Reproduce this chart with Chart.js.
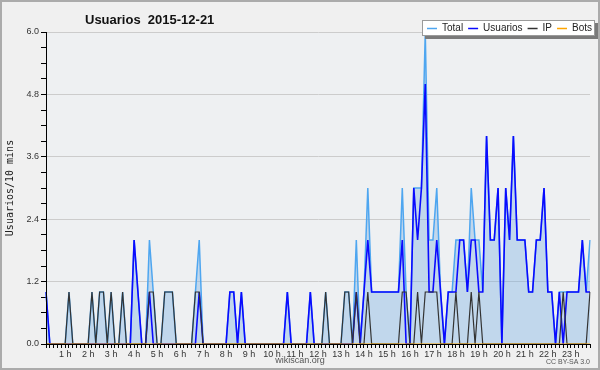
<!DOCTYPE html>
<html>
<head>
<meta charset="utf-8">
<title>Usuarios 2015-12-21</title>
<script src="https://cdn.jsdelivr.net/npm/chart.js@4.4.1/dist/chart.umd.min.js"></script>
<style>
  html, body { margin: 0; padding: 0; background: #f0f0f0; }
  #wrap { width: 600px; height: 370px; }
</style>
</head>
<body>
<div id="wrap"><canvas id="chart" width="600" height="370"></canvas></div>
<script>
// ── Data: users per 10 minutes, 2015-12-21 (00:10 → 23:50) ──
const total = [
  1,0,0,0,0,0,1,0,0,0,0,0,
  1,0,1,1,0,1,0,0,1,0,0,2,
  1,0,0,2,1,0,0,1,1,1,0,0,
  0,0,0,1,2,0,0,0,0,0,0,0,
  1,1,0,1,0,0,0,0,0,0,0,0,
  0,0,0,1,0,0,0,0,0,1,0,0,
  0,1,0,0,0,0,1,1,0,2,0,1,
  3,1,1,1,1,1,1,1,1,3,1,0,
  3,3,3,6,2,2,3,1,0,1,1,2,
  2,2,1,3,2,2,1,4,2,2,3,0,
  3,2,4,2,2,2,1,1,2,2,3,1,
  1,0,1,1,1,1,1,1,2,1,2
];
const usuarios = [
  1,0,0,0,0,0,0,0,0,0,0,0,
  0,0,0,0,0,0,0,0,0,0,0,2,
  1,0,0,1,0,0,0,0,0,0,0,0,
  0,0,0,0,1,0,0,0,0,0,0,0,
  1,1,0,1,0,0,0,0,0,0,0,0,
  0,0,0,1,0,0,0,0,0,1,0,0,
  0,0,0,0,0,0,0,0,0,1,0,1,
  2,1,1,1,1,1,1,1,1,2,0,0,
  3,2,3,5,1,1,2,1,0,1,1,1,
  2,2,1,2,2,1,1,4,2,2,3,0,
  3,2,4,2,2,2,1,1,2,2,3,1,
  1,0,1,0,1,1,1,1,2,1,1
];
const ip = [
  0,0,0,0,0,0,1,0,0,0,0,0,
  1,0,1,1,0,1,0,0,1,0,0,0,
  0,0,0,1,1,0,0,1,1,1,0,0,
  0,0,0,1,1,0,0,0,0,0,0,0,
  0,0,0,0,0,0,0,0,0,0,0,0,
  0,0,0,0,0,0,0,0,0,0,0,0,
  0,1,0,0,0,0,1,1,0,1,0,0,
  1,0,0,0,0,0,0,0,0,1,1,0,
  0,1,0,1,1,1,1,0,0,0,0,1,
  0,0,0,1,0,1,0,0,0,0,0,0,
  0,0,0,0,0,0,0,0,0,0,0,0,
  0,0,0,1,0,0,0,0,0,0,1
];
const bots = [
  0,0,0,0,0,0,0,0,0,0,0,0,
  0,0,0,0,0,0,0,0,0,0,0,0,
  0,0,0,0,0,0,0,0,0,0,0,0,
  0,0,0,0,0,0,0,0,0,0,0,0,
  0,0,0,0,0,0,0,0,0,0,0,0,
  0,0,0,0,0,0,0,0,0,0,0,0,
  0,0,0,0,0,0,0,0,0,0,0,0,
  0,0,0,0,0,0,0,0,0,0,0,0,
  0,0,0,0,0,0,0,0,0,0,0,0,
  0,0,0,0,0,0,0,0,0,0,0,0,
  0,0,0,0,0,0,0,0,0,0,0,0,
  0,0,0,0,0,0,0,0,0,0,0
];
const hourLabels = ['1 h','2 h','3 h','4 h','5 h','6 h','7 h','8 h','9 h','10 h','11 h','12 h',
                    '13 h','14 h','15 h','16 h','17 h','18 h','19 h','20 h','21 h','22 h','23 h'];
const yLabels = [0, 1.2, 2.4, 3.6, 4.8, 6.0];

const legendItems = [
  { text: 'Total', color: '#4ea6f0' },
  { text: 'Usuarios', color: '#0a0aff' },
  { text: 'IP', color: '#333333' },
  { text: 'Bots', color: '#ffa500' }
];

// category labels: one slot per 10 minutes
const times = [];
for (let i = 0; i < total.length; i++) {
  const m = (i + 1) * 10;
  times.push(String(Math.floor(m / 60)).padStart(2, '0') + ':' + String(m % 60).padStart(2, '0'));
}

function isMajor(v) {
  return yLabels.some(l => Math.abs(l - v) < 1e-6);
}
function align(p) {
  return Math.round(p - 0.5) + 0.5;
}

// ── Frame: background, axis redraw, title, legend, footer ──
const frame = {
  id: 'frame',
  beforeDraw(chart) {
    const { ctx, chartArea: a } = chart;
    ctx.save();
    ctx.fillStyle = '#f0f0f0';
    ctx.fillRect(0, 0, chart.width, chart.height);
    ctx.fillStyle = '#eef0f2';
    ctx.fillRect(a.left, a.top, a.right - a.left, a.bottom - a.top);
    ctx.restore();
  },
  afterDatasetsDraw(chart) {
    // axis lines sit on top of the zero-value lines
    const { ctx, chartArea: a } = chart;
    ctx.save();
    ctx.strokeStyle = '#000';
    ctx.lineWidth = 1;
    ctx.beginPath();
    ctx.moveTo(align(a.left), a.top);
    ctx.lineTo(align(a.left), align(a.bottom));
    ctx.lineTo(a.right, align(a.bottom));
    ctx.stroke();
    ctx.restore();
  },
  afterDraw(chart) {
    const { ctx } = chart;
    ctx.save();

    // title
    ctx.fillStyle = '#111';
    ctx.font = 'bold 13px "Liberation Sans", Arial, sans-serif';
    ctx.textBaseline = 'alphabetic';
    ctx.fillText('Usuarios  2015-12-21', 85, 24);

    // legend box with shadow
    ctx.fillStyle = '#7a7a7a';
    ctx.fillRect(425, 23, 174, 16);
    ctx.fillStyle = '#ffffff';
    ctx.fillRect(422, 20, 173, 16);
    ctx.strokeStyle = '#9a9a9a';
    ctx.lineWidth = 1;
    ctx.strokeRect(422.5, 20.5, 172, 15);

    ctx.font = '10px "Liberation Sans", Arial, sans-serif';
    ctx.textBaseline = 'middle';
    let x = 427;
    legendItems.forEach(item => {
      ctx.strokeStyle = item.color;
      ctx.lineWidth = 1.5;
      ctx.beginPath();
      ctx.moveTo(x, 28.5);
      ctx.lineTo(x + 10, 28.5);
      ctx.stroke();
      ctx.fillStyle = '#222';
      ctx.fillText(item.text, x + 15, 28.5);
      x += 15 + ctx.measureText(item.text).width + 5;
    });

    // footer
    ctx.fillStyle = '#555';
    ctx.font = '9px "Liberation Sans", Arial, sans-serif';
    ctx.textAlign = 'center';
    ctx.fillText('wikiscan.org', 300, 361);
    ctx.font = '7px "Liberation Sans", Arial, sans-serif';
    ctx.textAlign = 'right';
    ctx.fillText('CC BY-SA 3.0', 590, 362);

    // outer border
    ctx.strokeStyle = '#ababab';
    ctx.lineWidth = 2;
    ctx.strokeRect(1, 1, chart.width - 2, chart.height - 2);
    ctx.restore();
  }
};

const tickFont = { family: '"Liberation Sans", Arial, sans-serif', size: 9 };

new Chart(document.getElementById('chart'), {
  type: 'line',
  data: {
    labels: times,
    datasets: [
      {
        label: 'Total', data: total, order: 4,
        borderColor: '#4ea6f0', borderWidth: 1.5,
        backgroundColor: 'rgba(110,170,225,0.35)', fill: 'origin'
      },
      { label: 'Usuarios', data: usuarios, order: 3, borderColor: '#0a0aff', borderWidth: 1.6, fill: false },
      { label: 'IP', data: ip, order: 2, borderColor: '#333333', borderWidth: 1.2, fill: false },
      { label: 'Bots', data: bots, order: 1, borderColor: '#ffa500', borderWidth: 1.2, fill: false }
    ]
  },
  options: {
    responsive: false,
    animation: false,
    layout: { padding: { top: 32, right: 10, bottom: 0, left: 0 } },
    elements: { point: { radius: 0 }, line: { tension: 0 } },
    plugins: {
      legend: { display: false },
      title: { display: false },
      tooltip: { enabled: false }
    },
    scales: {
      x: {
        type: 'category',
        offset: false,
        afterFit: s => { s.height = 26; },
        grid: { drawOnChartArea: false, tickLength: 4, tickColor: '#000' },
        border: { color: '#000' },
        ticks: {
          autoSkip: false,
          maxRotation: 0,
          padding: 1,
          color: '#333',
          font: tickFont,
          callback: (v, i) => ((i + 1) % 6 === 0 ? hourLabels[(i + 1) / 6 - 1] || '' : '')
        }
      },
      y: {
        min: 0,
        max: 6,
        afterFit: s => { s.width = 46; },
        grid: {
          color: c => (c.tick && isMajor(c.tick.value) && c.tick.value > 0 ? '#cccccc' : 'rgba(0,0,0,0)'),
          tickColor: '#000',
          tickLength: 5
        },
        border: { color: '#000' },
        ticks: {
          stepSize: 0.3,
          padding: 2,
          color: '#333',
          font: tickFont,
          callback: v => (isMajor(v) ? v.toFixed(1) : '')
        },
        title: {
          display: true,
          text: 'Usuarios/10 mins',
          color: '#222',
          font: { family: '"DejaVu Sans Mono", monospace', size: 10 },
          padding: { top: 4, bottom: 0 }
        }
      }
    }
  },
  plugins: [frame]
});
</script>
</body>
</html>
